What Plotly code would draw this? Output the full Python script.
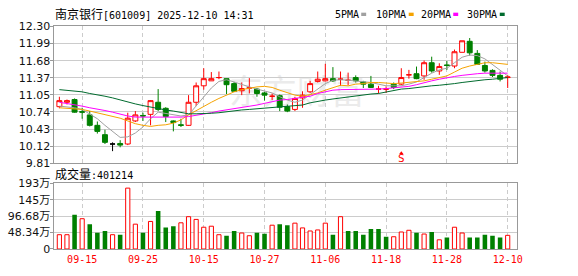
import plotly.graph_objects as go

dates = ["09-10", "09-11", "09-12", "09-15", "09-16", "09-17", "09-18", "09-19", "09-22", "09-23",
         "09-24", "09-25", "09-26", "09-29", "09-30", "10-09", "10-10", "10-13", "10-14", "10-15",
         "10-16", "10-17", "10-20", "10-21", "10-22", "10-23", "10-24", "10-27", "10-28", "10-29",
         "10-30", "10-31", "11-03", "11-04", "11-05", "11-06", "11-07", "11-10", "11-11", "11-12",
         "11-13", "11-14", "11-17", "11-18", "11-19", "11-20", "11-21", "11-24", "11-25", "11-26",
         "11-27", "11-28", "12-01", "12-02", "12-03", "12-04", "12-05", "12-08", "12-09", "12-10"]

opens = [10.84, 10.92, 10.97, 10.75, 10.69, 10.50, 10.33, 10.16, 10.17, 10.16,
         10.58, 10.68, 10.70, 10.92, 10.81, 10.58, 10.51, 10.50, 10.92, 11.22,
         11.31, 11.37, 11.35, 11.26, 11.13, 11.18, 11.16, 11.09, 11.03, 11.04,
         10.84, 10.79, 11.00, 11.11, 11.30, 11.31, 11.35, 11.34, 11.32, 11.37,
         11.29, 11.25, 11.16, 11.16, 11.25, 11.25, 11.42, 11.44, 11.40, 11.64,
         11.49, 11.60, 11.58, 11.83, 12.03, 11.81, 11.59, 11.50, 11.41, 11.37]
highs = [11.02, 10.97, 10.99, 10.82, 10.76, 10.57, 10.42, 10.19, 10.23, 10.73,
         10.76, 10.73, 10.96, 11.16, 10.83, 10.59, 10.62, 11.05, 11.28, 11.54,
         11.47, 11.48, 11.35, 11.29, 11.28, 11.36, 11.18, 11.11, 11.08, 11.06,
         10.88, 11.02, 11.12, 11.31, 11.48, 11.62, 11.56, 11.48, 11.46, 11.41,
         11.31, 11.40, 11.22, 11.21, 11.28, 11.54, 11.51, 11.57, 11.68, 11.75,
         11.63, 11.67, 11.88, 12.04, 12.09, 11.87, 11.66, 11.52, 11.48, 11.42]
lows = [10.81, 10.88, 10.73, 10.62, 10.48, 10.35, 10.16, 10.03, 10.10, 10.14,
        10.56, 10.58, 10.50, 10.76, 10.56, 10.39, 10.47, 10.49, 10.85, 11.15,
        11.31, 11.34, 11.07, 11.11, 11.05, 11.08, 11.02, 10.95, 10.96, 10.76,
        10.74, 10.76, 10.82, 11.09, 11.28, 11.30, 11.29, 11.22, 11.23, 11.28,
        11.18, 11.18, 11.08, 11.09, 11.16, 11.23, 11.35, 11.34, 11.33, 11.46,
        11.42, 11.51, 11.54, 11.83, 11.77, 11.60, 11.46, 11.38, 11.30, 11.18]
closes = [10.95, 10.95, 10.74, 10.74, 10.50, 10.39, 10.19, 10.16, 10.14, 10.63,
          10.69, 10.67, 10.95, 10.79, 10.66, 10.55, 10.50, 10.92, 11.22, 11.35,
          11.35, 11.37, 11.24, 11.12, 11.17, 11.18, 11.08, 11.05, 11.03, 10.83,
          10.76, 10.99, 11.05, 11.26, 11.34, 11.35, 11.31, 11.34, 11.32, 11.31,
          11.25, 11.19, 11.16, 11.16, 11.19, 11.37, 11.42, 11.35, 11.64, 11.49,
          11.57, 11.59, 11.84, 12.04, 11.82, 11.61, 11.49, 11.41, 11.34, 11.38]
candle_colors = ["r", "r", "g", "g", "g", "g", "g", "k", "g", "r",
                 "r", "g", "r", "g", "g", "g", "g", "r", "r", "r",
                 "r", "r", "g", "g", "r", "r", "g", "g", "r", "g",
                 "g", "r", "r", "r", "r", "r", "g", "r", "r", "g",
                 "g", "g", "r", "r", "g", "r", "r", "g", "r", "g",
                 "r", "g", "r", "r", "g", "g", "g", "g", "g", "r"]

# volume in 万 (10k shares)
volumes = [42, 42, 101, 89, 73, 48, 53, 42, 42, 179,
           73, 48, 81, 112, 63, 67, 77, 95, 87, 64,
           67, 42, 39, 53, 47, 39, 48, 45, 70, 73,
           70, 76, 62, 53, 56, 76, 42, 95, 53, 53,
           42, 59, 59, 36, 36, 50, 55, 48, 44, 50,
           27, 34, 64, 47, 34, 34, 42, 39, 34, 40.1214]
volume_colors = ["r", "r", "g", "r", "g", "g", "g", "r", "g", "r",
                 "r", "g", "r", "g", "g", "g", "r", "r", "r", "r",
                 "r", "r", "g", "g", "r", "r", "g", "g", "r", "g",
                 "g", "r", "r", "r", "r", "r", "g", "r", "g", "g",
                 "g", "g", "g", "g", "r", "r", "r", "g", "r", "g",
                 "r", "g", "r", "r", "g", "g", "g", "g", "g", "r"]

ma5 = [10.85, 10.84, 10.82, 10.79, 10.71, 10.62, 10.50, 10.39, 10.28, 10.29,
       10.36, 10.47, 10.62, 10.74, 10.72, 10.69, 10.67, 10.69, 10.85, 11.02,
       11.18, 11.30, 11.33, 11.29, 11.24, 11.20, 11.16, 11.13, 11.09, 11.02,
       10.96, 10.92, 10.96, 11.06, 11.16, 11.26, 11.32, 11.33, 11.32, 11.31,
       11.30, 11.28, 11.25, 11.22, 11.22, 11.22, 11.25, 11.29, 11.37, 11.45,
       11.51, 11.54, 11.64, 11.74, 11.78, 11.77, 11.71, 11.61, 11.50, 11.40]
ma10 = [10.82, 10.81, 10.80, 10.79, 10.76, 10.73, 10.70, 10.66, 10.63, 10.58,
        10.53, 10.50, 10.48, 10.50, 10.51, 10.54, 10.60, 10.69, 10.77, 10.85,
        10.92, 10.99, 11.05, 11.11, 11.15, 11.18, 11.20, 11.21, 11.19, 11.14,
        11.10, 11.05, 11.03, 11.06, 11.09, 11.14, 11.18, 11.23, 11.22, 11.25,
        11.26, 11.28, 11.28, 11.27, 11.26, 11.27, 11.28, 11.29, 11.31, 11.34,
        11.37, 11.40, 11.47, 11.54, 11.58, 11.61, 11.64, 11.64, 11.63, 11.61]
ma20 = [10.92, 10.90, 10.88, 10.85, 10.82, 10.80, 10.77, 10.74, 10.70, 10.67,
        10.65, 10.65, 10.65, 10.65, 10.64, 10.64, 10.65, 10.66, 10.68, 10.70,
        10.73, 10.76, 10.78, 10.80, 10.82, 10.85, 10.87, 10.90, 10.93, 10.96,
        10.97, 10.99, 11.01, 11.03, 11.08, 11.11, 11.14, 11.15, 11.15, 11.16,
        11.16, 11.16, 11.16, 11.17, 11.18, 11.19, 11.21, 11.24, 11.28, 11.31,
        11.34, 11.37, 11.39, 11.41, 11.43, 11.44, 11.45, 11.45, 11.45, 11.45]
ma30 = [11.15, 11.14, 11.12, 11.11, 11.08, 11.06, 11.03, 11.00, 10.96, 10.92,
        10.89, 10.86, 10.83, 10.81, 10.78, 10.76, 10.73, 10.71, 10.71, 10.71,
        10.72, 10.73, 10.75, 10.77, 10.78, 10.79, 10.80, 10.82, 10.82, 10.83,
        10.84, 10.85, 10.87, 10.91, 10.94, 10.96, 10.98, 11.00, 11.02, 11.03,
        11.05, 11.07, 11.08, 11.11, 11.13, 11.16, 11.17, 11.19, 11.21, 11.22,
        11.23, 11.24, 11.26, 11.28, 11.30, 11.31, 11.33, 11.34, 11.36, 11.37]

price_ticks = ["12.30", "11.99", "11.68", "11.37", "11.05", "10.74", "10.43", "10.12", "9.81"]
price_min, price_max = 9.81, 12.30
vol_ticks = ["0", "48.34万", "96.68万", "145万", "193万"]
vol_max = 193.36
label_dates = ["09-15", "09-25", "10-15", "10-27", "11-06", "11-18", "11-28", "12-10"]
signal_date = "11-20"
title_text = "南京银行[601009] 2025-12-10 14:31"
volume_text = "成交量:401214"

W, H = 578, 276
RED, GREEN, BLACK = "#ff0000", "#008000", "#000000"
idx = list(range(len(dates)))

fig = go.Figure()

# candles
styles = {"r": (RED, "#ffffff"), "g": (GREEN, GREEN), "k": (BLACK, BLACK)}
for key, (lc, fc) in styles.items():
    sel = [i for i in idx if candle_colors[i] == key]
    if not sel:
        continue
    side = dict(line=dict(color=lc, width=1), fillcolor=fc)
    fig.add_trace(go.Candlestick(
        x=sel, open=[opens[i] for i in sel], high=[highs[i] for i in sel],
        low=[lows[i] for i in sel], close=[closes[i] for i in sel],
        increasing=side, decreasing=side, whiskerwidth=0,
        xaxis="x", yaxis="y", showlegend=False, hoverinfo="skip"))

ma_series = [(ma5, "#a0a0a0"), (ma10, "#f5a300"), (ma20, "#ff00ff"), (ma30, "#006b2e")]
for vals, col in ma_series:
    fig.add_trace(go.Scatter(x=idx, y=vals, mode="lines", line=dict(color=col, width=1),
                             xaxis="x", yaxis="y", showlegend=False, hoverinfo="skip"))

# volume
sel_r = [i for i in idx if volume_colors[i] == "r"]
sel_g = [i for i in idx if volume_colors[i] == "g"]
fig.add_trace(go.Bar(x=sel_r, y=[volumes[i] for i in sel_r], width=0.55,
                     marker=dict(color="#ffffff", line=dict(color=RED, width=1)),
                     xaxis="x2", yaxis="y2", showlegend=False, hoverinfo="skip"))
fig.add_trace(go.Bar(x=sel_g, y=[volumes[i] for i in sel_g], width=0.6,
                     marker=dict(color=GREEN, line=dict(width=0)),
                     xaxis="x2", yaxis="y2", showlegend=False, hoverinfo="skip"))

def px(x):
    return x / W

def py(y):
    return 1 - y / H

xdom = [px(55), px(522)]
xr = [-0.65, 60.17]
label_idx = [dates.index(d) for d in label_dates]
price_vals = [price_max - k * (price_max - price_min) / 8 for k in range(9)]
vol_vals = [k * vol_max / 4 for k in range(5)]
grid = "#cccccc"
border = "#999999"
tickfont = dict(family="DejaVu Sans, Noto Sans CJK SC", size=11, color="#111111")

common_x = dict(domain=xdom, range=xr, tickvals=label_idx, showgrid=True, gridcolor=grid,
                griddash="4px,3px", gridwidth=1, showline=True, mirror=True, linecolor=border,
                linewidth=1, zeroline=False, ticks="", rangeslider=dict(visible=False))
common_y = dict(showgrid=True, gridcolor=grid, showline=True, mirror=True, linecolor=border,
                zeroline=False, ticks="outside", ticklen=3, tickcolor=border,
                tickfont=tickfont, ticklabelstandoff=-2)
fig.update_layout(
    width=W, height=H, margin=dict(l=0, r=0, t=0, b=0),
    paper_bgcolor="white", plot_bgcolor="white", barmode="overlay",
    boxgap=0.35, boxgroupgap=0, showlegend=False,
    xaxis=dict(anchor="y", showticklabels=False, **common_x),
    xaxis2=dict(anchor="y2", ticktext=label_dates, showticklabels=True, ticklabelstandoff=1,
                tickfont=dict(family="DejaVu Sans Mono", size=10, color=RED), **common_x),
    yaxis=dict(domain=[py(165), py(21.5)], range=[price_min, price_max], tickvals=price_vals,
               ticktext=price_ticks, anchor="x", **common_y),
    yaxis2=dict(domain=[py(255), py(186)], range=[0, vol_max], tickvals=vol_vals,
                ticktext=vol_ticks, anchor="x2", **common_y),
)

mono = "DejaVu Sans Mono, Noto Sans CJK SC"
annotations = [
    dict(text='<span style="font-size:12px">' + title_text[:4] + "</span>" + title_text[4:],
         x=px(55), y=py(8.5), xanchor="left", yanchor="middle"),
    dict(text='<span style="font-size:12px">' + volume_text[:3] + "</span>" + volume_text[3:],
         x=px(55), y=py(177), xanchor="left", yanchor="middle"),
]
legend_items = [("5PMA", 337, "#a0a0a0", 365), ("10PMA", 379, "#f5a300", 413),
                ("20PMA", 424, "#ff00ff", 458), ("30PMA", 471, "#006b2e", 505)]
shapes = []
for name, tx, col, sx in legend_items:
    annotations.append(dict(text=name, x=px(tx), y=py(8.5), xanchor="left", yanchor="middle"))
    shapes.append(dict(type="rect", xref="paper", yref="paper", x0=px(sx), x1=px(sx + 5),
                       y0=py(10.5), y1=py(7), fillcolor=col, line=dict(width=0)))
for a in annotations:
    a.update(xref="paper", yref="paper", showarrow=False,
             font=dict(family=mono, size=10, color="#000000"), borderpad=0)

# signal marker
sig = dates.index(signal_date)
annotations.append(dict(text="S", xref="x", yref="paper", x=sig, y=py(160.5), showarrow=False,
                        font=dict(family="DejaVu Sans Mono", size=11, color=RED),
                        xanchor="center", yanchor="middle", borderpad=0))
shapes.append(dict(type="path", xref="x", yref="paper",
                   path=f"M {sig-0.3},{py(155.5)} L {sig+0.3},{py(155.5)} L {sig},{py(152.5)} Z",
                   fillcolor=RED, line=dict(width=0)))

# watermark
shapes.append(dict(type="rect", xref="paper", yref="paper", layer="below",
                   x0=px(215), x1=px(385), y0=py(110), y1=py(76),
                   fillcolor="rgba(0,0,0,0)", line=dict(width=0),
                   label=dict(text="东方财富", textposition="middle center",
                              font=dict(family="Noto Sans CJK SC", size=34, color="#ebebeb"))))

fig.update_layout(annotations=annotations, shapes=shapes)
fig.write_html("out.html")
